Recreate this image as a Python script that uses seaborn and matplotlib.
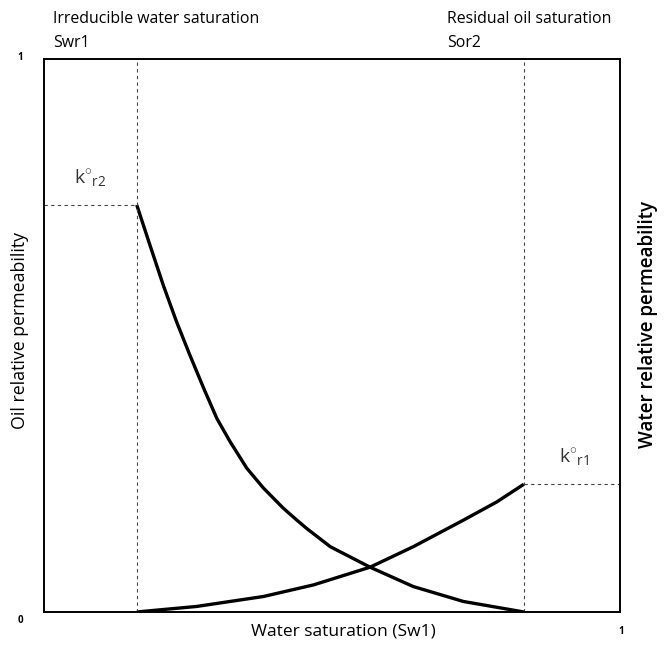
import matplotlib
matplotlib.use("Agg")
import matplotlib.pyplot as plt
import pandas as pd
import seaborn as sns

# Oil relative permeability (drainage from Swr1 to Sor2)
sw_oil = [0.161, 0.184, 0.207, 0.230, 0.253, 0.277, 0.300, 0.323, 0.352, 0.381,
          0.415, 0.439, 0.456, 0.497, 0.566, 0.641, 0.728, 0.833]
kro = [0.736, 0.663, 0.591, 0.525, 0.465, 0.405, 0.350, 0.308, 0.260, 0.224,
       0.188, 0.166, 0.151, 0.118, 0.081, 0.046, 0.019, 0.0]

# Water relative permeability
sw_water = [0.161, 0.265, 0.381, 0.468, 0.566, 0.641, 0.728, 0.786, 0.833]
krw = [0.0, 0.010, 0.028, 0.049, 0.081, 0.118, 0.166, 0.199, 0.231]

# End points
swr1 = 0.161
sor2 = 0.833
kro_end = 0.736
krw_end = 0.231

sns.set_theme(style="white")
font = "Open Sans"
plt.rcParams["font.family"] = [font, "DejaVu Sans"]
plt.rcParams["mathtext.fontset"] = "custom"
plt.rcParams["mathtext.rm"] = font
plt.rcParams["text.color"] = "black"

df = pd.concat([
    pd.DataFrame({"Sw": sw_oil, "kr": kro, "phase": "oil"}),
    pd.DataFrame({"Sw": sw_water, "kr": krw, "phase": "water"}),
])

fig = plt.figure(figsize=(6.67, 6.5), dpi=100)
ax = fig.add_axes([0.066, 0.0585, 0.8636, 0.8508])

sns.lineplot(data=df, x="Sw", y="kr", units="phase", estimator=None,
             color="black", linewidth=2.4, sort=False, ax=ax, legend=False)
for line in ax.get_lines():
    line.set_solid_joinstyle("round")
    line.set_solid_capstyle("butt")

dash = dict(color="#444444", linewidth=0.8, linestyle=(0, (3, 3)))
ax.axvline(swr1, **dash)
ax.axvline(sor2, **dash)
ax.plot([0, swr1], [kro_end, kro_end], **dash)
ax.plot([sor2, 1], [krw_end, krw_end], **dash)

ax.set_xlim(0, 1)
ax.set_ylim(0, 1)
ax.set_xticks([])
ax.set_yticks([])
ax.set_xlabel("")
ax.set_ylabel("")
for s in ax.spines.values():
    s.set_color("black")
    s.set_linewidth(1.4)

# Axis labels
fig.text(0.515, 0.028, "Water saturation (Sw1)", ha="center", va="center", fontsize=12.5)
fig.text(0.030, 0.492, "Oil relative permeability", rotation=90, ha="center", va="center", fontsize=12.8)
fig.text(0.972, 0.50, "Water relative permeability", rotation=90, ha="center", va="center",
         fontsize=13.5, fontweight="semibold")

# Corner tick values
fig.text(0.030, 0.046, "0", ha="center", va="center", fontsize=7, fontweight="bold")
fig.text(0.030, 0.912, "1", ha="center", va="center", fontsize=7, fontweight="bold")
fig.text(0.932, 0.028, "1", ha="center", va="center", fontsize=7, fontweight="bold")

# End point annotations
ax.text(0.016, 1.072, "Irreducible water saturation", ha="left", va="center",
        fontsize=11.4, transform=ax.transAxes)
ax.text(0.016, 1.029, "Swr1", ha="left", va="center",
        fontsize=11.4, transform=ax.transAxes)
ax.text(0.700, 1.072, "Residual oil saturation", ha="left", va="center",
        fontsize=11.4, transform=ax.transAxes)
ax.text(0.700, 1.029, "Sor2", ha="left", va="center",
        fontsize=11.4, transform=ax.transAxes)

ax.text(0.080, 0.784, r"$\mathrm{k}^{\circ}{}_{\mathrm{r2}}$", ha="center", va="center",
        fontsize=14, color="#333333")
ax.text(0.920, 0.278, r"$\mathrm{k}^{\circ}{}_{\mathrm{r1}}$", ha="center", va="center",
        fontsize=14, color="#333333")

fig.savefig("out.png", dpi=100, facecolor="white")
